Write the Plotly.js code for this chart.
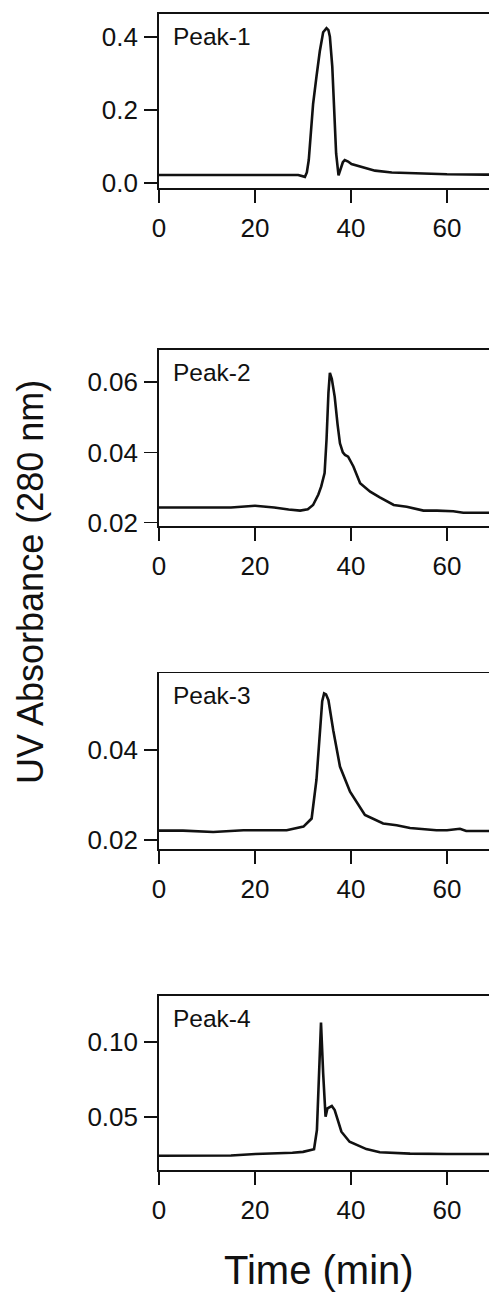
<!DOCTYPE html>
<html>
<head>
<meta charset="utf-8">
<script src="https://cdn.plot.ly/plotly-3.0.1.min.js"></script>
<style>
  html, body { margin: 0; padding: 0; overflow: hidden; background: #fff; }
  #chart { width: 540px; height: 1293px; }
</style>
</head>
<body>
<div id="chart"></div>
<script>
// ---- Data ----
const xTicks = [0, 20, 40, 60];

const peakLabels = ["Peak-1", "Peak-2", "Peak-3", "Peak-4"];

const t1 = [0, 10, 20, 26, 27.5, 29, 30.4, 30.8, 31.2, 31.5, 32.1, 32.8, 33.5, 34.2, 34.9, 35.3, 35.6, 36.1, 36.5, 36.9, 37.4, 37.9, 38.3, 38.7, 39.4, 40.1, 41.5, 43, 45, 48.5, 52, 55.4, 60, 68, 75];
const v1 = [0.021, 0.021, 0.021, 0.021, 0.023, 0.021, 0.016, 0.028, 0.062, 0.117, 0.215, 0.29, 0.36, 0.412, 0.423, 0.418, 0.40, 0.318, 0.181, 0.08, 0.02, 0.04, 0.056, 0.062, 0.058, 0.051, 0.046, 0.04, 0.033, 0.028, 0.026, 0.024, 0.023, 0.022, 0.022];

const t2 = [0, 5, 10, 15, 20, 24, 27, 29.4, 31, 32.1, 33.2, 33.8, 34.5, 34.9, 35.3, 35.6, 36.0, 36.6, 37.2, 37.7, 38.3, 38.75, 39.4, 40.5, 41.9, 44, 46, 48.9, 51.6, 55.1, 57.9, 61.3, 63.4, 68, 75];
const v2 = [0.0243, 0.0243, 0.0243, 0.0243, 0.0248, 0.0243, 0.0237, 0.0234, 0.0238, 0.025, 0.028, 0.0303, 0.0341, 0.0436, 0.057, 0.0627, 0.061, 0.0559, 0.048, 0.0426, 0.040, 0.0393, 0.0388, 0.036, 0.0312, 0.0288, 0.0272, 0.025, 0.0245, 0.0234, 0.0234, 0.0232, 0.0228, 0.0228, 0.0228];

const t3 = [0, 5, 11.3, 17.6, 22, 26.6, 30.1, 31.8, 32.8, 33.5, 34.0, 34.4, 34.8, 35.3, 36.3, 37.7, 39.8, 42.9, 44, 46.7, 49.5, 52.3, 57.8, 60, 62.7, 64, 68, 75];
const v3 = [0.0221, 0.0221, 0.0218, 0.0222, 0.0222, 0.0222, 0.023, 0.0248, 0.0334, 0.0445, 0.051, 0.0527, 0.0525, 0.0512, 0.0445, 0.0364, 0.0308, 0.0256, 0.025, 0.0237, 0.0233, 0.0227, 0.0222, 0.0222, 0.0225, 0.022, 0.022, 0.022];

const t4 = [0, 10, 15, 20.1, 25, 27.8, 30, 32.3, 32.9, 33.4, 33.75, 34.2, 34.7, 35.1, 36.0, 36.6, 37.3, 38, 39.7, 43.2, 46, 52.3, 60, 68, 75];
const v4 = [0.0246, 0.0246, 0.0248, 0.0258, 0.026, 0.0266, 0.0272, 0.0289, 0.0416, 0.090, 0.1127, 0.0791, 0.0504, 0.056, 0.0575, 0.0548, 0.047, 0.0405, 0.0339, 0.029, 0.0269, 0.026, 0.0258, 0.0258, 0.0258];

const yTicks1 = [0, 0.2, 0.4];
const yTicks2 = [0.02, 0.04, 0.06];
const yTicks3 = [0.02, 0.04];
const yTicks4 = [0.05, 0.10];

const xTitle = "Time (min)";
const yTitle = "UV Absorbance (280 nm)";

// ---- Layout ----
const W = 540, H = 1293;
const FONT = "Liberation Sans, Arial, Helvetica, sans-serif";
const ink = "#111";
const xDom = [159 / W, 519 / W];
const panels = [
  {t: t1, v: v1, ticks: yTicks1, fmt: ".1f", range: [-0.0145, 0.462], top: 14, bot: 188},
  {t: t2, v: v2, ticks: yTicks2, fmt: ".2f", range: [0.0191, 0.0692], top: 350, bot: 525.7},
  {t: t3, v: v3, ticks: yTicks3, fmt: ".2f", range: [0.018, 0.0572], top: 673.3, bot: 849},
  {t: t4, v: v4, ticks: yTicks4, fmt: ".2f", range: [0.0152, 0.1302], top: 996, bot: 1170}
];

const data = [];
const layout = {
  width: W, height: H,
  margin: {l: 0, r: 0, t: 0, b: 0},
  paper_bgcolor: "#fff", plot_bgcolor: "#fff",
  showlegend: false,
  font: {family: FONT, color: ink},
  annotations: []
};

panels.forEach((p, i) => {
  const n = i + 1;
  const xa = n === 1 ? "x" : "x" + n;
  const ya = n === 1 ? "y" : "y" + n;
  data.push({
    x: p.t, y: p.v, xaxis: xa, yaxis: ya,
    type: "scatter", mode: "lines",
    line: {color: ink, width: 2.6, shape: "linear"},
    hoverinfo: "skip"
  });
  const dom = [(H - p.bot) / H, (H - p.top) / H];
  layout[n === 1 ? "xaxis" : "xaxis" + n] = {
    domain: xDom, range: [0, 75], anchor: ya,
    tickvals: xTicks, ticktext: xTicks.map(String),
    ticks: "outside", ticklen: 13, tickwidth: 1.8, tickcolor: ink,
    showline: true, linecolor: ink, linewidth: 1.8, mirror: true,
    showgrid: false, zeroline: false,
    tickfont: {family: FONT, size: 26, color: ink},
    ticklabelstandoff: 3,
    fixedrange: true
  };
  layout[n === 1 ? "yaxis" : "yaxis" + n] = {
    domain: dom, range: p.range, anchor: xa,
    tickvals: p.ticks, tickformat: p.fmt,
    ticks: "outside", ticklen: 13, tickwidth: 1.8, tickcolor: ink,
    showline: true, linecolor: ink, linewidth: 1.8, mirror: true,
    showgrid: false, zeroline: false,
    tickfont: {family: FONT, size: 26, color: ink},
    ticklabelstandoff: 1,
    fixedrange: true
  };
  layout.annotations.push({
    text: peakLabels[i], xref: xa, yref: "paper",
    x: 2.6, y: (H - (p.top + 22)) / H,
    xanchor: "left", yanchor: "middle", showarrow: false,
    font: {family: FONT, size: 24.5, color: ink}
  });
});

layout.annotations.push({
  text: yTitle, xref: "paper", yref: "paper",
  x: 30 / W, y: (H - 582) / H, textangle: -90,
  xanchor: "center", yanchor: "middle", showarrow: false,
  font: {family: FONT, size: 36, color: ink}
});
layout.annotations.push({
  text: xTitle, xref: "paper", yref: "paper",
  x: 319 / W, y: (H - 1270) / H,
  xanchor: "center", yanchor: "middle", showarrow: false,
  font: {family: FONT, size: 40, color: ink}
});

Plotly.newPlot("chart", data, layout, {staticPlot: true, displayModeBar: false});
</script>
</body>
</html>
